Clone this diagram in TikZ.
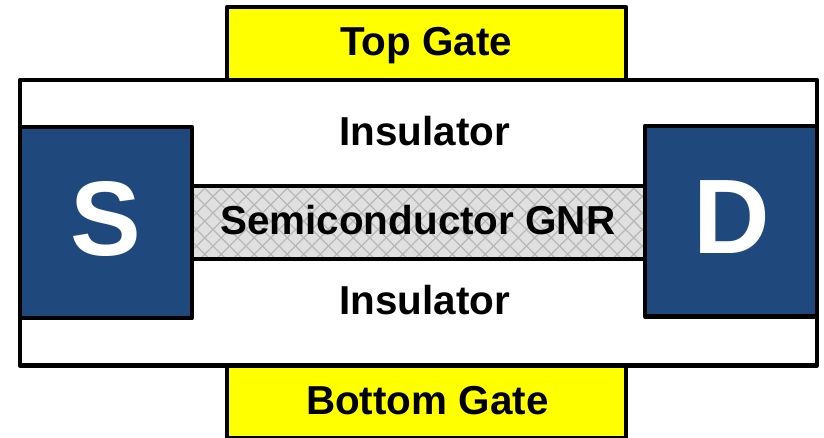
\documentclass[tikz,border=0pt]{standalone}
\usepackage{fontspec}
\setmainfont{Liberation Sans}
\definecolor{navyblue}{HTML}{1F497D}
\definecolor{hatchbg}{HTML}{E0E0E0}
\definecolor{hatchline}{HTML}{B8B8B8}
\definecolor{gateyellow}{RGB}{255,255,0}
\tikzset{
  layer/.style={draw=black,line width=4.5pt,line join=round,outer sep=0pt,inner sep=0pt},
  gatebox/.style={layer,fill=gateyellow},
  contact/.style={layer,fill=navyblue},
  gnrbox/.style={layer,fill=hatchbg},
  label/.style={font=\fontsize{40.4}{48}\selectfont\bfseries,text=black,inner sep=0pt,outer sep=0pt,anchor=base},
  biglabel/.style={font=\fontsize{106}{120}\selectfont\bfseries,text=white,inner sep=0pt,outer sep=0pt,anchor=base},
}
\begin{document}
\begin{tikzpicture}[x=1pt,y=-1pt]
\clip (0,0) rectangle (824,438);
\fill[white] (0,0) rectangle (824,438);
\node[layer,fill=white,minimum width=797pt,minimum height=285.5pt] (ins) at (418.5,222.75) {};
\node[gatebox,minimum width=399pt,minimum height=73pt] (top) at (426.5,43.5) {};
\node[gatebox,minimum width=399pt,minimum height=73pt] (bottom) at (426.5,402) {};
\node[label] (toptext) at (426.3,56) {Top Gate};
\node[label] (bottomtext) at (427.3,414.3) {Bottom Gate};
\node[gnrbox,minimum width=453pt,minimum height=73pt] (gnr) at (418.5,222.5) {};
\begin{scope}
  \clip (192,186) rectangle (645,259);
  \foreach \k in {-10,...,45}{
    \draw[hatchline,line width=1.4pt] (180+\k*16.5,180) -- +(90,90);
    \draw[hatchline,line width=1.4pt] (180+\k*16.5,180) -- +(-90,90);
  }
\end{scope}
\draw[line width=4.5pt,line join=round] (gnr.north west) rectangle (gnr.south east);
\node[label] (gnrtext) at (417.8,234.3) {Semiconductor GNR};
\node[contact,minimum width=172pt,minimum height=191pt] (s) at (106,222.5) {};
\node[contact,minimum width=172pt,minimum height=190.5pt] (d) at (731,221.25) {};
\node[biglabel] (stext) at (106.3,256) {S};
\node[biglabel] (dtext) at (731.8,253.7) {D};
\node[label] (i1) at (424.6,146) {Insulator};
\node[label] (i2) at (424.6,314) {Insulator};
\end{tikzpicture}
\end{document}
